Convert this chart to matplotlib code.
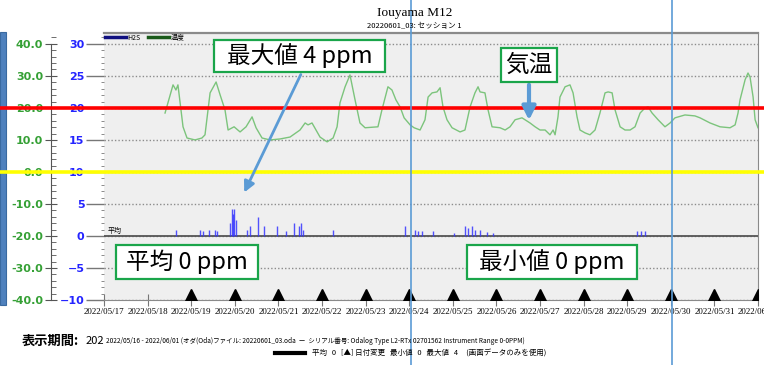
import matplotlib.pyplot as plt
import matplotlib.ticker as mticker
from matplotlib.lines import Line2D
from matplotlib.patches import Rectangle, FancyArrowPatch
from matplotlib.font_manager import FontProperties

JP = ['Noto Sans CJK JP', 'DejaVu Sans']

# hours since 2022/05/17 00:00
temp_hours = [33.6, 38.0, 39.6, 40.7, 43.5, 45.7, 50.1, 53.9, 55.6, 58.4, 61.7, 63.9,
              66.6, 68.3, 71.6, 74.9, 78.2, 81.5, 83.7, 87.0, 91.4, 96.9, 102.4, 107.9,
              110.7, 112.3, 114.5, 116.7, 118.9, 122.8, 126.1, 128.3, 129.9, 132.7, 135.4,
              138.2, 140.9, 143.7, 150.8, 153.0, 156.3, 158.5, 160.7, 163.0, 165.2, 168.5,
              170.7, 174.0, 176.7, 178.4, 180.6, 183.3, 185.0, 186.6, 188.8, 191.6, 196.0,
              198.7, 201.5, 204.2, 205.9, 207.0, 209.7, 211.4, 213.6, 218.0, 220.8, 223.5,
              226.3, 230.1, 234.5, 237.3, 240.0, 242.8, 245.5, 247.2, 248.3, 249.9, 251.0,
              253.8, 256.5, 258.2, 260.4, 262.0, 264.8, 267.5, 270.3, 273.0, 275.8, 277.5,
              279.7, 281.3, 284.1, 286.8, 289.6, 292.3, 295.1, 297.8, 299.5, 301.7, 305.0,
              308.8, 311.6, 314.3, 319.8, 325.3, 328.1, 333.6, 339.1, 344.6, 347.4, 349.0,
              350.1, 352.9, 354.5, 355.6, 357.3, 358.4, 360.0]
temp_values = [18.4, 27.2, 25.6, 27.2, 14.1, 10.6, 10.0, 10.6, 11.6, 24.7, 28.1, 24.1,
               19.4, 13.1, 14.1, 12.5, 14.1, 17.2, 13.8, 10.6, 10.0, 10.3, 10.9, 13.1,
               15.3, 14.7, 15.3, 13.1, 10.9, 9.4, 10.6, 14.1, 21.6, 26.6, 30.3,
               22.5, 15.3, 13.8, 14.1, 19.4, 26.6, 25.6, 22.5, 20.3, 16.9, 14.7,
               13.8, 13.1, 16.3, 23.4, 24.7, 25.0, 26.3, 20.3, 16.3, 13.8, 12.5,
               13.1, 20.3, 24.7, 26.6, 25.0, 24.7, 19.4, 14.1, 13.8, 13.1, 14.1,
               16.3, 16.9, 15.3, 14.1, 13.1, 13.1, 11.6, 13.1, 11.6, 17.2, 23.4,
               26.6, 27.2, 24.7, 17.2, 13.1, 12.2, 11.6, 13.1, 18.4, 24.7, 25.0,
               24.7, 19.4, 14.1, 13.1, 13.1, 14.1, 18.4, 20.0, 20.3, 18.4, 16.3,
               14.1, 15.3, 16.9, 17.8, 17.5, 16.9, 15.3, 14.1, 13.8, 14.7, 18.4,
               22.5, 28.8, 30.9, 29.7, 23.4, 16.3, 13.8]

h2s_hours = [39.6, 52.8, 54.5, 57.8, 61.1, 62.2, 69.4, 70.5, 71.0, 71.6, 72.7, 78.7, 80.4,
             84.8, 88.1, 95.2, 100.2, 104.6, 107.3, 108.4, 109.5, 126.1, 165.7, 171.2,
             172.9, 175.1, 181.1, 192.7, 198.7, 200.4, 202.6, 204.2, 207.0, 210.8, 214.1,
             293.4, 295.6, 297.8]
h2s_values = [1.0, 1.0, 0.8, 1.0, 1.0, 0.8, 2.0, 4.2, 3.5, 4.2, 2.5, 1.0, 1.5,
              3.0, 1.5, 1.5, 0.8, 2.0, 1.5, 2.0, 1.0, 1.0, 1.5, 1.0,
              0.8, 0.8, 0.7, 0.5, 1.5, 1.2, 1.5, 1.0, 1.0, 0.6, 0.5,
              0.7, 0.7, 0.7]

day_ticks = [0, 24, 48, 72, 96, 120, 144, 168, 192, 216, 240, 264, 288, 312, 336, 360]
day_labels = ['2022/05/17', '2022/05/18', '2022/05/19', '2022/05/20', '2022/05/21',
              '2022/05/22', '2022/05/23', '2022/05/24', '2022/05/25', '2022/05/26',
              '2022/05/27', '2022/05/28', '2022/05/29', '2022/05/30', '2022/05/31',
              '2022/06/01']
day_change = day_ticks[2:]
guide_hours = [169.0, 312.7]
red_level = 20
yellow_level = 0

W, H = 764, 365
fig = plt.figure(figsize=(W / 100, H / 100), dpi=100)


def fx(px):
    return px / W


def fy(py):
    return 1 - py / H


ax = fig.add_axes([fx(104), fy(300), fx(758) - fx(104), fy(33) - fy(300)])
ax.set_facecolor('#efefef')
ax.set_xlim(0, 360)
ax.set_ylim(-10, 31.7)

# H2S axis (blue)
ax.set_yticks(range(-10, 31, 5))
ax.yaxis.set_minor_locator(mticker.MultipleLocator(1))
ax.tick_params(axis='y', which='major', length=13, width=1, color='#777777',
               labelcolor='#2424ff', labelsize=8, pad=1)
ax.tick_params(axis='y', which='minor', length=2.5, color='#777777')
for lab in ax.get_yticklabels():
    lab.set_fontweight('bold')
ax.yaxis.grid(True, ls=(0, (1, 1.5)), color='#8c8c8c', lw=1)
ax.axhline(0, color='#555555', lw=1.3, zorder=2)

ax.spines['left'].set_visible(False)
for s in ['top', 'right', 'bottom']:
    ax.spines[s].set_color('#8a8a8a')
ax.spines['top'].set_linewidth(1.6)

ax.set_xticks(day_ticks)
ax.set_xticklabels(day_labels, fontfamily='Liberation Serif', fontsize=6.4)
ax.tick_params(axis='x', direction='inout', length=8, color='#777777', pad=2)

ax.vlines(h2s_hours, 0, h2s_values, color='#3535ff', lw=1.0, alpha=0.85, zorder=3)
ax.plot(day_change, [0.02] * len(day_change), transform=ax.get_xaxis_transform(),
        marker='^', ls='none', color='black', ms=8, zorder=4)
ax.text(0.006, 0.2, '平均', transform=ax.get_yaxis_transform(), family=JP,
        fontsize=5, va='bottom')

ax.legend(handles=[Line2D([], [], color='#101080', lw=2.5),
                   Line2D([], [], color='#1a5a1a', lw=2.5)],
          labels=['H2S', '温度'], loc='upper left', bbox_to_anchor=(0, 1.0), ncol=2,
          frameon=False, prop=FontProperties(family=JP, size=5), handlelength=3,
          handletextpad=0.3, columnspacing=1.0, borderpad=0.1, borderaxespad=0)

# temperature axis (green)
ax2 = ax.twinx()
ax2.set_ylim(-40, 43.4)
for s in ['top', 'right', 'bottom']:
    ax2.spines[s].set_visible(False)
ax2.spines['left'].set_visible(True)
ax2.spines['left'].set_position(('axes', (51 - 104) / 654))
ax2.spines['left'].set_bounds(-40, 40)
ax2.spines['left'].set_color('#555555')
ax2.yaxis.set_ticks_position('left')
ax2.set_yticks(range(-40, 41, 10))
ax2.yaxis.set_major_formatter(mticker.FormatStrFormatter('%.1f'))
ax2.yaxis.set_minor_locator(mticker.MultipleLocator(2))
ax2.tick_params(axis='y', which='major', direction='inout', length=9, color='#555555',
                labelcolor='#35a035', labelsize=8, pad=1)
ax2.tick_params(axis='y', which='minor', direction='in', length=3.5, color='#555555')
for lab in ax2.get_yticklabels():
    lab.set_fontweight('bold')

ax2.plot(temp_hours, temp_values, color='#7cc47c', lw=1, zorder=3)
ax2.axhline(red_level, xmin=-104 / 654, xmax=660 / 654, color='red', lw=2.6,
            clip_on=False, zorder=5)
ax2.axhline(yellow_level, xmin=-104 / 654, xmax=660 / 654, color='#ffff00', lw=2.6,
            clip_on=False, zorder=5)
for h in guide_hours:
    ax2.axvline(h, ymin=-65 / 267, ymax=300 / 267, color='#5b9bd5', lw=1.2,
                clip_on=False, zorder=6)

# left edge bar
fig.add_artist(Rectangle((0, fy(305)), fx(6), fy(32) - fy(305), transform=fig.transFigure,
                         facecolor='#4f81bd', edgecolor='#3a6aa0', lw=0.8, zorder=-1))

# titles
fig.text(fx(415), fy(13), 'Iouyama M12', ha='center', va='center', fontsize=9.5,
         family='Liberation Serif')
fig.text(fx(414), fy(26), '20220601_03: セッション 1', ha='center', va='center',
         fontsize=5.5, family=JP)


# callouts
def callout(x0, y0, x1, y1, text, size):
    fig.add_artist(Rectangle((fx(x0), fy(y1)), fx(x1) - fx(x0), fy(y0) - fy(y1),
                             transform=fig.transFigure, facecolor='white',
                             edgecolor='#1aa54a', lw=1.6, zorder=8))
    fig.text(fx((x0 + x1) / 2), fy((y0 + y1) / 2), text, ha='center', va='center',
             fontsize=size, family=JP, zorder=9)


callout(214, 40, 385, 72, '最大値 4 ppm', 17)
callout(501, 48, 557, 82, '気温', 17)
callout(116, 245, 258, 279, '平均 0 ppm', 17)
callout(467, 245, 637, 279, '最小値 0 ppm', 17)

fig.add_artist(FancyArrowPatch((fx(302), fy(72)), (fx(243), fy(195)),
                               transform=fig.transFigure, arrowstyle='-|>',
                               mutation_scale=16, lw=2, color='#5b9bd5', zorder=7))
fig.add_artist(FancyArrowPatch((fx(529), fy(82)), (fx(529), fy(123)),
                               transform=fig.transFigure, arrowstyle='-|>',
                               mutation_scale=20, lw=3, color='#5b9bd5', zorder=7))

# footer
fig.text(fx(22), fy(341), '表示期間:', fontsize=9.5, weight='bold', family=JP,
         va='center')
fig.text(fx(86), fy(341), '202', fontsize=8, family=JP, va='center')
fig.text(fx(106), fy(341),
         '2022/05/16 - 2022/06/01 (オダ(Oda)ファイル: 20220601_03.oda  ー  '
         'シリアル番号: Odalog Type L2-RTx 02701562 Instrument Range 0-0PPM)',
         fontsize=4.7, family=JP, va='center')
fig.add_artist(Line2D([fx(275), fx(305)], [fy(353), fy(353)], color='black', lw=3))
fig.text(fx(312), fy(354),
         '平均   0   [▲] 日付変更   最小値   0   最大値   4     (画面データのみを使用)',
         fontsize=5.4, family=JP, va='center')

fig.savefig('out.png', dpi=100)
